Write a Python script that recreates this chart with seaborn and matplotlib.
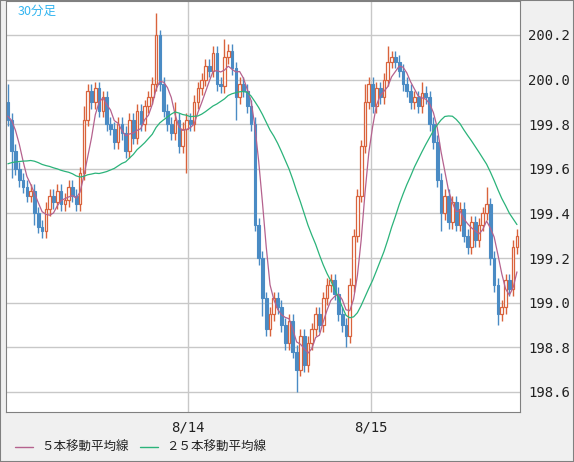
import numpy as np
import pandas as pd
import matplotlib
matplotlib.use("Agg")
import matplotlib.pyplot as plt
import seaborn as sns

# 24 candles before the visible window (needed for the 25-bar average)
pre_closes = [199.55, 199.52, 199.50, 199.48, 199.46, 199.45, 199.48, 199.50, 199.52, 199.55,
              199.58, 199.60, 199.62, 199.60, 199.58, 199.62, 199.65, 199.68, 199.70, 199.74,
              199.78, 199.82, 199.86, 199.90]
closes = [199.82, 199.68, 199.60, 199.55, 199.52, 199.48, 199.50, 199.40, 199.34, 199.32,
          199.42, 199.48, 199.45, 199.50, 199.44, 199.46, 199.52, 199.48, 199.44, 199.58,
          199.82, 199.95, 199.90, 199.96, 199.86, 199.92, 199.80, 199.78, 199.72, 199.80,
          199.76, 199.68, 199.82, 199.74, 199.86, 199.80, 199.88, 199.92, 199.98, 200.20,
          199.98, 199.86, 199.80, 199.76, 199.82, 199.70, 199.78, 199.82,
          199.80, 199.90, 199.96, 200.00, 200.06, 200.04, 200.12, 199.98, 199.97, 200.10, 200.13, 200.05,
          199.92, 199.98, 199.95, 199.88, 199.80, 199.35, 199.20, 199.02, 198.88, 198.95,
          199.02, 198.98, 198.90, 198.82, 198.92, 198.78, 198.70, 198.85, 198.72, 198.82,
          198.88, 198.95, 198.90, 199.02, 199.08, 199.10, 199.04, 198.95, 198.90, 198.85,
          199.08, 199.30, 199.48, 199.70, 199.90, 199.98, 199.88, 199.96, 199.92, 200.00,
          200.08, 200.10, 200.08, 200.04, 199.98, 199.95, 199.90, 199.92, 199.88, 199.94,
          199.92, 199.80, 199.72, 199.55, 199.40, 199.48, 199.36, 199.45, 199.35, 199.42,
          199.30, 199.25, 199.36, 199.28, 199.35, 199.40, 199.44, 199.20, 199.08, 198.95,
          198.98, 199.10, 199.06, 199.25, 199.30]
first_open = 199.90
default_wick = 0.03
upper_wick_extra = {0: 0.08, 20: 0.06, 39: 0.10, 40: 0.02, 44: 0.08, 57: 0.08, 94: 0.08,
                    100: 0.07, 109: 0.05, 126: 0.08}
lower_wick_extra = {1: 0.12, 7: 0.05, 47: 0.20, 60: 0.10, 67: 0.08, 76: 0.10, 89: 0.05,
                    114: 0.08, 129: 0.05}
date_labels = ["8/14", "8/15"]
date_positions = [47.5, 95.5]
legend_labels = ["５本移動平均線", "２５本移動平均線"]
title_text = "30分足"

all_closes = pd.Series(pre_closes + closes)
ma5 = all_closes.rolling(5).mean().iloc[len(pre_closes):].to_numpy()
ma25 = all_closes.rolling(25).mean().iloc[len(pre_closes):].to_numpy()

n = len(closes)
idx = np.arange(n)
opens = np.array([first_open] + closes[:-1])
cl = np.array(closes)
highs = np.maximum(opens, cl) + np.array([upper_wick_extra.get(i, default_wick) for i in idx])
lows = np.minimum(opens, cl) - np.array([lower_wick_extra.get(i, default_wick) for i in idx])

sns.set_style("white")
plt.rcParams['font.family'] = ['Noto Sans CJK JP', 'DejaVu Sans']

RED = "#d9633c"
BLUE = "#4a8bc4"
fig = plt.figure(figsize=(5.74, 4.62), dpi=100, facecolor="#f0f0f0")
ax = fig.add_axes([6/574, 1 - 412/462, 514/574, 411/462])
ax.set_facecolor("white")

ax.set_xlim(-0.5, 134.8)
ax.set_ylim(198.51, 200.352)
for y in np.arange(198.6, 200.21, 0.2):
    ax.axhline(y, color="#c8c8c8", lw=1, zorder=0)
for xp in date_positions:
    ax.axvline(xp, color="#c8c8c8", lw=1, zorder=0)

up = cl >= opens
colors = np.where(up, RED, BLUE)
ax.vlines(idx, lows, highs, colors=colors, lw=1, zorder=2)
ax.bar(idx[~up], (opens - cl)[~up], bottom=cl[~up], width=0.7, color=BLUE,
       edgecolor=BLUE, lw=0.8, zorder=3)
ax.bar(idx[up], np.maximum((cl - opens)[up], 0.004), bottom=opens[up], width=0.7,
       color="white", edgecolor=RED, lw=0.9, zorder=3)

df = pd.DataFrame({"i": idx, "ma5": ma5, "ma25": ma25})
sns.lineplot(data=df, x="i", y="ma5", ax=ax, color="#b5628e", lw=0.9, zorder=4)
sns.lineplot(data=df, x="i", y="ma25", ax=ax, color="#2bb37a", lw=0.9, zorder=4)

ax.set_xlabel("")
ax.set_ylabel("")
ax.yaxis.tick_right()
ax.set_yticks(np.round(np.arange(198.6, 200.21, 0.2), 1))
ax.set_yticklabels([f"{v:.1f}" for v in np.arange(198.6, 200.21, 0.2)],
                   family="DejaVu Sans Mono", fontsize=10, color="#222222")
ax.set_xticks(date_positions)
ax.set_xticklabels(date_labels, family="DejaVu Sans Mono", fontsize=10, color="#222222")
ax.tick_params(length=0, pad=6)
for s in ax.spines.values():
    s.set_color("#808080")

ax.text(12/514, 1 - 10/411, title_text, transform=ax.transAxes, color="#33b5f0",
        fontsize=9, va="center", ha="left")

fig.lines.append(plt.Line2D([15/574, 33/574], [1 - 447/462] * 2, color="#b5628e", lw=1,
                            transform=fig.transFigure))
fig.text(41/574, 1 - 447/462, legend_labels[0], fontsize=9, va="center", color="#222222")
fig.lines.append(plt.Line2D([140/574, 158/574], [1 - 447/462] * 2, color="#2bb37a", lw=1,
                            transform=fig.transFigure))
fig.text(166/574, 1 - 447/462, legend_labels[1], fontsize=9, va="center", color="#222222")
fig.patches.append(plt.Rectangle((0, 0), 1, 1, fill=False, edgecolor="#808080", lw=1.5,
                                 transform=fig.transFigure))

fig.savefig("out.png", dpi=100, facecolor=fig.get_facecolor())
